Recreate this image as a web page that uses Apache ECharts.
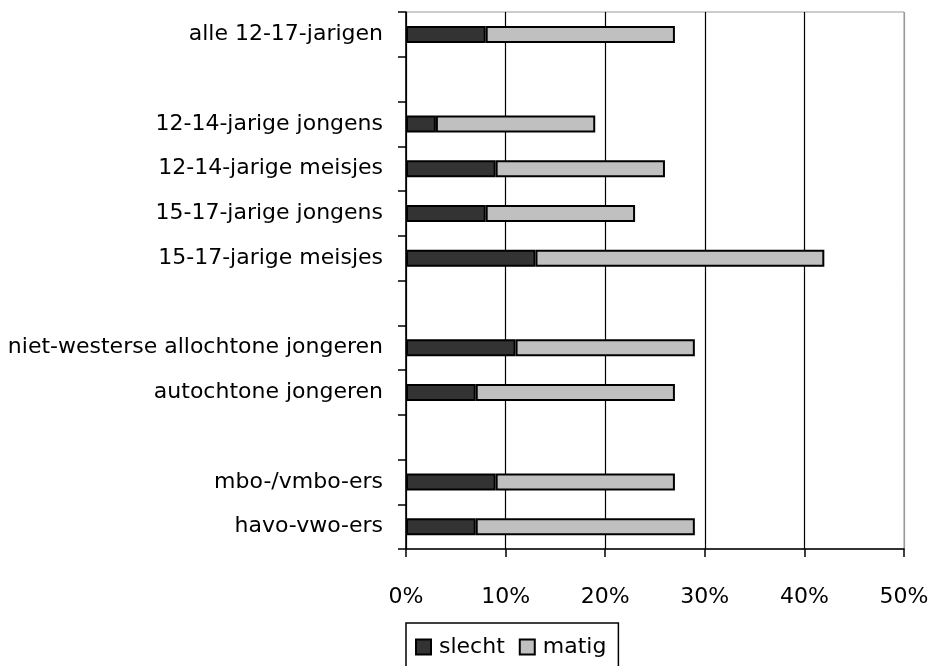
<!DOCTYPE html>
<html>
<head>
<meta charset="utf-8">
<script src="https://cdn.jsdelivr.net/npm/echarts@6/dist/echarts.min.js"></script>
<style>
html,body{margin:0;padding:0;background:#fff;}
#chart{width:933px;height:666px;}
</style>
</head>
<body>
<div id="chart"></div>
<script>
var categories = ['alle 12-17-jarigen', '', '12-14-jarige jongens', '12-14-jarige meisjes', '15-17-jarige jongens', '15-17-jarige meisjes', '', 'niet-westerse allochtone jongeren', 'autochtone jongeren', '', 'mbo-/vmbo-ers', 'havo-vwo-ers'];
var slecht = [8, null, 3, 9, 8, 13, null, 11, 7, null, 9, 7];
var matig = [19, null, 16, 17, 15, 29, null, 18, 20, null, 18, 22];
var seriesNames = ['slecht', 'matig'];
var xTicks = {min: 0, max: 50, interval: 10};

var FONT = 'DejaVu Sans';
var FS = 22;
var chart = echarts.init(document.getElementById('chart'), null, {renderer: 'canvas'});
chart.setOption({
  animation: false,
  backgroundColor: '#ffffff',
  grid: {
    left: 406, top: 12, width: 498, height: 537,
    show: true, borderColor: '#999999', borderWidth: 1, backgroundColor: 'transparent'
  },
  legend: {
    data: seriesNames,
    left: 406, top: 623,
    orient: 'horizontal',
    padding: [13, 12, 13, 9],
    itemGap: 14,
    itemWidth: 15, itemHeight: 15,
    borderColor: '#000', borderWidth: 1.5,
    icon: 'rect',
    textStyle: {fontFamily: FONT, fontSize: FS, color: '#000', padding: [0, 0, 0, 3]}
  },
  xAxis: {
    type: 'value',
    min: xTicks.min, max: xTicks.max, interval: xTicks.interval,
    axisLine: {show: true, lineStyle: {color: '#000', width: 1.5}},
    axisTick: {show: true, length: 8, lineStyle: {color: '#000', width: 1.5}},
    axisLabel: {formatter: '{value}%', fontFamily: FONT, fontSize: FS, color: '#000', margin: 37},
    splitLine: {show: true, lineStyle: {color: ['#000', '#000', '#000', '#000', '#000', '#999'], width: 1.2}}
  },
  yAxis: {
    type: 'category',
    data: categories,
    inverse: true,
    axisLine: {show: true, lineStyle: {color: '#000', width: 1.5}},
    axisTick: {show: true, length: 8, interval: 0, alignWithLabel: false, lineStyle: {color: '#000', width: 1.5}},
    axisLabel: {interval: 0, fontFamily: FONT, fontSize: FS, color: '#000', margin: 23},
    splitLine: {show: false}
  },
  series: [
    {
      name: seriesNames[0], type: 'bar', stack: 'total', data: slecht,
      barWidth: 17,
      itemStyle: {color: '#333333', borderColor: '#000', borderWidth: 2}
    },
    {
      name: seriesNames[1], type: 'bar', stack: 'total', data: matig,
      barWidth: 17,
      itemStyle: {color: '#c0c0c0', borderColor: '#000', borderWidth: 2}
    }
  ]
});
</script>
</body>
</html>
